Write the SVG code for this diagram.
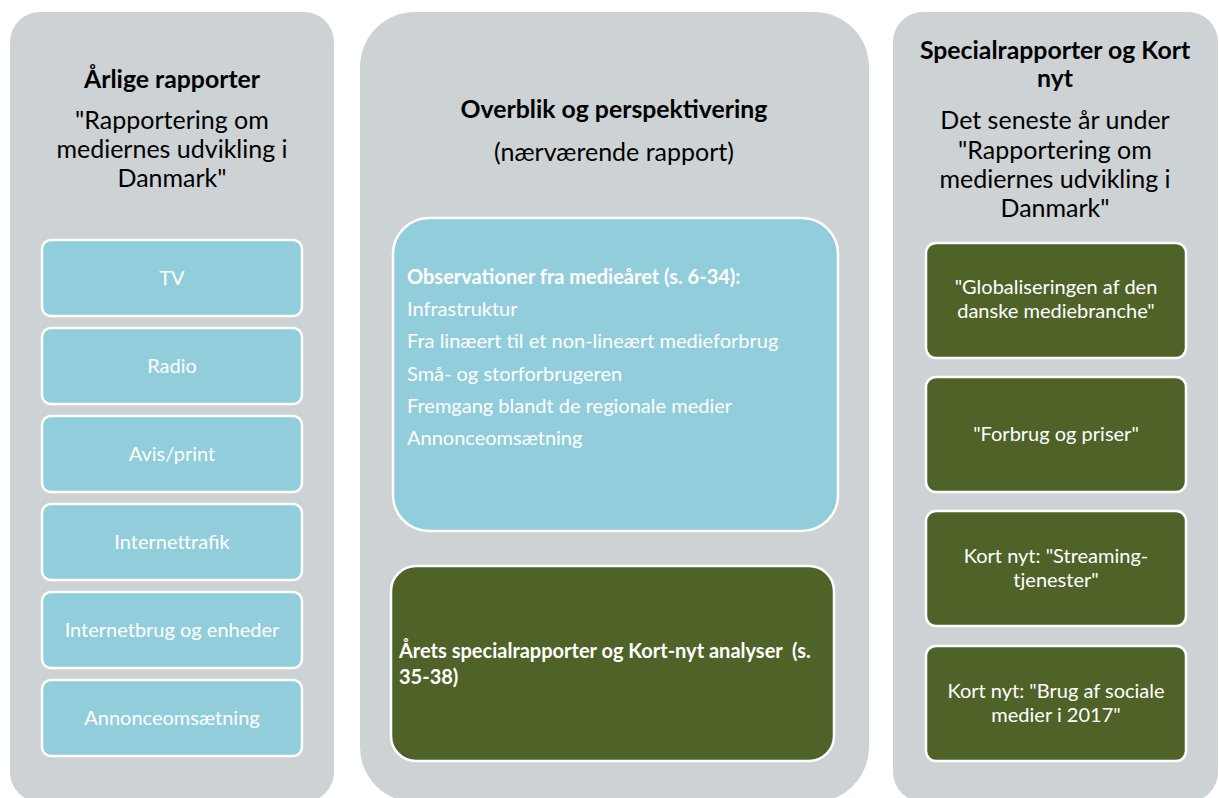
<svg xmlns="http://www.w3.org/2000/svg" width="1219" height="798" viewBox="0 0 1219 798">
<style>
.panel{fill:#CDD2D5}
.blue{fill:#92CDDC;stroke:#FFFFFF;stroke-width:2.5}
.green{fill:#4F6228;stroke:#FFFFFF;stroke-width:2.5}
text{font-family:Lato,"Open Sans","Liberation Sans",sans-serif}
.h{font-size:24.8px;font-weight:bold;fill:#000;text-anchor:middle}
.sub{font-size:25px;fill:#000;text-anchor:middle}
.w{font-size:20px;fill:#FFFFFF;text-anchor:middle}
.wl{font-size:20px;fill:#FFFFFF}
.wb{font-size:20px;fill:#FFFFFF;font-weight:bold;white-space:pre}
</style>
<rect width="1219" height="798" fill="#FFFFFF"/>
<g id="panel-left">
<rect class="panel" x="10" y="12" width="324" height="790" rx="30"/>
<text class="h" x="172" y="88">Årlige rapporter</text>
<text class="sub" x="172" y="129">"Rapportering om</text>
<text class="sub" x="172" y="158">mediernes udvikling i</text>
<text class="sub" x="172" y="187">Danmark"</text>
</g>
<g id="node-tv"><rect class="blue" x="42" y="240" width="260" height="76" rx="9"/><text class="w" x="172" y="285">TV</text></g>
<g id="node-radio"><rect class="blue" x="42" y="328" width="260" height="76" rx="9"/><text class="w" x="172" y="373">Radio</text></g>
<g id="node-avis"><rect class="blue" x="42" y="416" width="260" height="76" rx="9"/><text class="w" x="172" y="461">Avis/print</text></g>
<g id="node-internettrafik"><rect class="blue" x="42" y="504" width="260" height="76" rx="9"/><text class="w" x="172" y="549">Internettrafik</text></g>
<g id="node-internetbrug"><rect class="blue" x="42" y="592" width="260" height="76" rx="9"/><text class="w" x="172" y="637">Internetbrug og enheder</text></g>
<g id="node-annonce"><rect class="blue" x="42" y="680" width="260" height="76" rx="9"/><text class="w" x="172" y="725">Annonceomsætning</text></g>

<g id="panel-middle">
<rect class="panel" x="360" y="12" width="509" height="790" rx="55"/>
<text class="h" x="614" y="118">Overblik og perspektivering</text>
<text class="sub" x="614" y="161">(nærværende rapport)</text>
</g>
<g id="node-observationer">
<rect class="blue" x="393" y="218" width="445" height="313" rx="36"/>
<text class="wb" x="407" y="284">Observationer fra medieåret (s. 6-34):</text>
<text class="wl" x="407" y="316">Infrastruktur</text>
<text class="wl" x="407" y="348">Fra linæert til et non-lineært medieforbrug</text>
<text class="wl" x="407" y="381">Små- og storforbrugeren</text>
<text class="wl" x="407" y="413">Fremgang blandt de regionale medier</text>
<text class="wl" x="407" y="445">Annonceomsætning</text>
</g>
<g id="node-aarets">
<rect class="green" x="391" y="566" width="443" height="195" rx="25"/>
<text class="wb" x="399" y="658" xml:space="preserve">Årets specialrapporter og Kort-nyt analyser  (s.</text>
<text class="wb" x="399" y="684">35-38)</text>
</g>

<g id="panel-right">
<rect class="panel" x="893" y="12" width="325" height="790" rx="30"/>
<text class="h" x="1055" y="59">Specialrapporter og Kort</text>
<text class="h" x="1055" y="87">nyt</text>
<text class="sub" x="1055" y="129">Det seneste år under</text>
<text class="sub" x="1055" y="159">"Rapportering om</text>
<text class="sub" x="1055" y="188">mediernes udvikling i</text>
<text class="sub" x="1055" y="217">Danmark"</text>
</g>
<g id="node-globalisering"><rect class="green" x="926" y="243" width="260" height="115" rx="10"/><text class="w" x="1056" y="294">"Globaliseringen af den</text><text class="w" x="1056" y="318">danske mediebranche"</text></g>
<g id="node-forbrug"><rect class="green" x="926" y="377" width="260" height="115" rx="10"/><text class="w" x="1056" y="441">"Forbrug og priser"</text></g>
<g id="node-streaming"><rect class="green" x="926" y="511" width="260" height="115" rx="10"/><text class="w" x="1056" y="563">Kort nyt: "Streaming-</text><text class="w" x="1056" y="587">tjenester"</text></g>
<g id="node-sociale"><rect class="green" x="926" y="646" width="260" height="115" rx="10"/><text class="w" x="1056" y="698">Kort nyt: "Brug af sociale</text><text class="w" x="1056" y="722">medier i 2017"</text></g>
<g id="connectors"></g>
</svg>
